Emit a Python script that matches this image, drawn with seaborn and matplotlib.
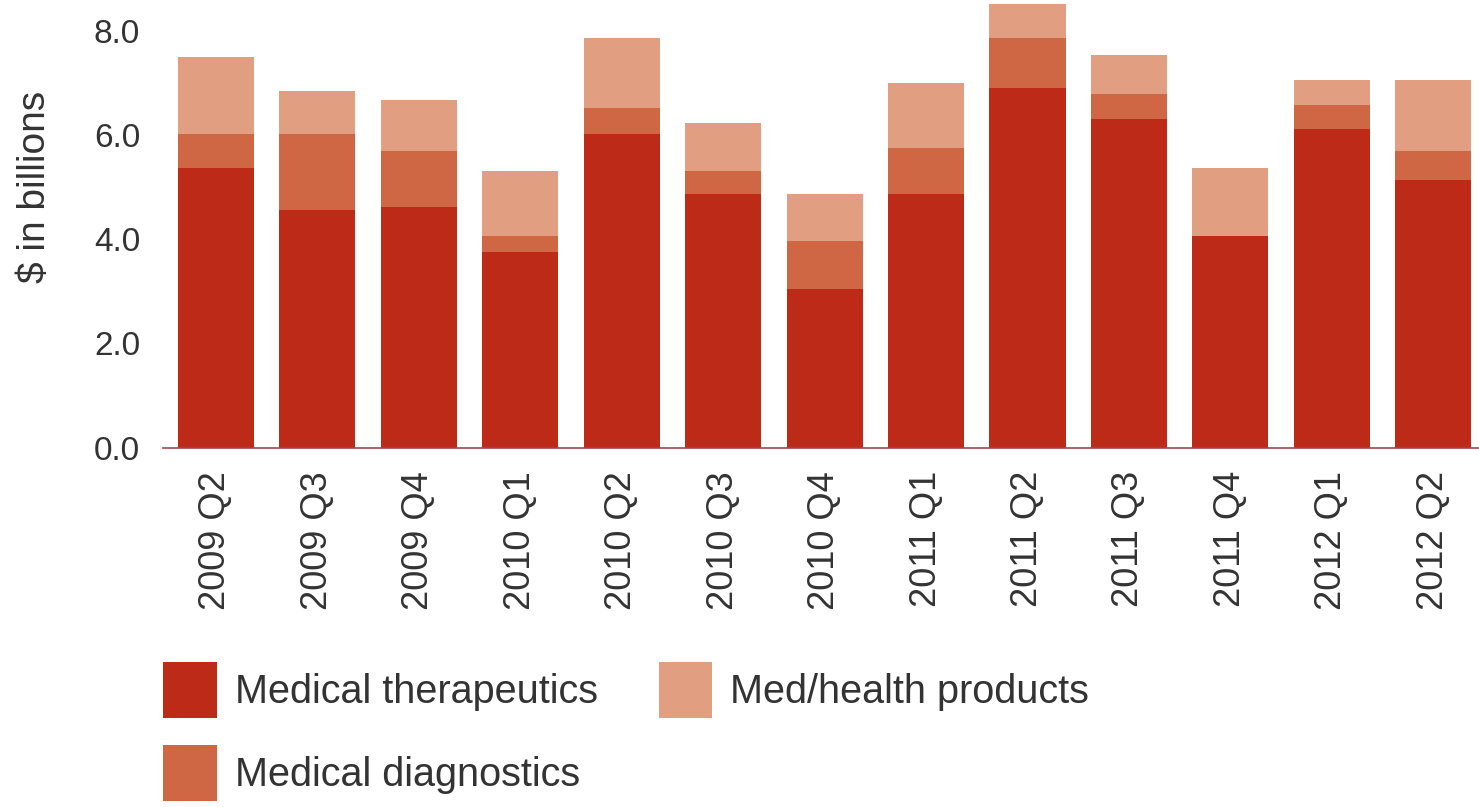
import numpy as np
import pandas as pd
import seaborn as sns
import matplotlib.pyplot as plt
from matplotlib.patches import Patch

sns.set_style("white")
plt.rcParams['font.family'] = ['Liberation Sans', 'DejaVu Sans']

##data ($ billions)
quarters = ['2009 Q2', '2009 Q3', '2009 Q4', '2010 Q1', '2010 Q2', '2010 Q3', '2010 Q4',
            '2011 Q1', '2011 Q2', '2011 Q3', '2011 Q4', '2012 Q1', '2012 Q2']
therapeutics = [5.38, 4.56, 4.62, 3.75, 6.02, 4.88, 3.04, 4.88, 6.90, 6.31, 4.06, 6.13, 5.15]
diagnostics = [0.64, 1.46, 1.07, 0.31, 0.50, 0.43, 0.92, 0.87, 0.97, 0.48, 0.00, 0.45, 0.54]
products = [1.48, 0.83, 0.98, 1.25, 1.35, 0.92, 0.92, 1.25, 0.65, 0.75, 1.31, 0.48, 1.37]

c_ther = '#BD2A17'
c_diag = '#CF6644'
c_prod = '#E19E80'
txt = '#333333'

df = pd.DataFrame({'quarter': quarters, 'ther': therapeutics,
                   'diag': diagnostics, 'prod': products})
df['ther_diag'] = df['ther'] + df['diag']
df['total'] = df['ther_diag'] + df['prod']

fig = plt.figure(figsize=(14.79, 8.07), dpi=100)
ax = fig.add_axes([163/1479, 1-447.5/807, 1-163/1479, 447.5/807])

##stacked bars: tallest layer first
sns.barplot(data=df, x='quarter', y='total', color=c_prod, saturation=1, width=0.75,
            linewidth=0, ax=ax)
sns.barplot(data=df, x='quarter', y='ther_diag', color=c_diag, saturation=1, width=0.75,
            linewidth=0, ax=ax)
sns.barplot(data=df, x='quarter', y='ther', color=c_ther, saturation=1, width=0.75,
            linewidth=0, ax=ax)

ax.set_xlim(-0.52, 12.45)
ax.set_ylim(0, 8.6)
ax.set_yticks([0, 2, 4, 6, 8])
ax.set_yticklabels(['%.1f' % v for v in [0, 2, 4, 6, 8]])
ax.set_xlabel('')
ax.set_ylabel('')
ax.tick_params(axis='y', length=0, pad=16.5, labelsize=24, labelcolor=txt)
ax.tick_params(axis='x', length=0, pad=17, labelsize=26, labelcolor=txt, rotation=90)
sns.despine(ax=ax, left=True)
ax.spines['bottom'].set_color('#9c4a4a')
ax.spines['bottom'].set_linewidth(1.2)

fig.text(35/1479, 1-187/807, r'\$ in billions', rotation=90, ha='center', va='center',
         fontsize=28, color=txt)

handles = [Patch(color=c_ther, lw=0), Patch(color=c_diag, lw=0), Patch(color=c_prod, lw=0)]
labels = ['Medical therapeutics', 'Medical diagnostics', 'Med/health products']
fig.legend(handles, labels, loc='upper left', bbox_to_anchor=(163/1479, 1-662/807),
           ncol=2, frameon=False, fontsize=28.5, labelcolor=txt, borderpad=0,
           borderaxespad=0, handlelength=1.36, handleheight=1.80, handletextpad=0.45,
           labelspacing=0.68, columnspacing=1.54)

fig.savefig('out.png', dpi=100)
